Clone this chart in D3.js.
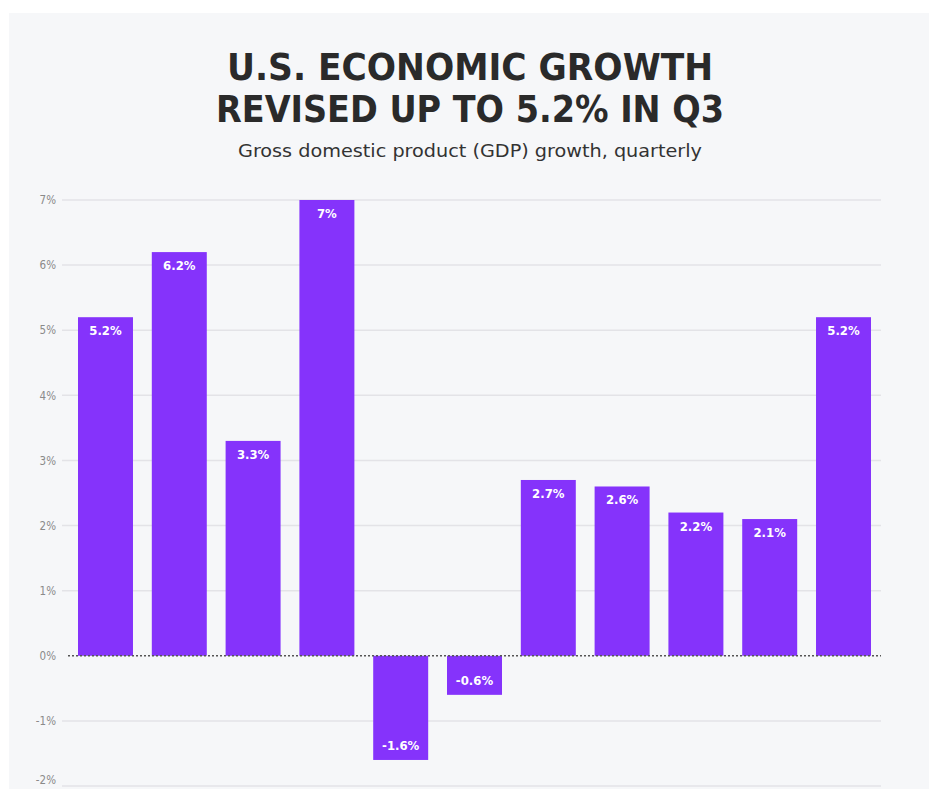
<!DOCTYPE html>
<html><head><meta charset="utf-8">
<script src="https://cdn.jsdelivr.net/npm/d3@7"></script>
<style>
html,body{margin:0;padding:0;background:#fff;}
svg{display:block;}
</style></head>
<body>
<svg id="chart" width="934" height="789"></svg>
<script>
const categories = ["Q3 2021","Q4 2021","Q1 2022","Q2 2022","Q3 2022","Q4 2022","Q1 2023","Q2 2023","Q3 2023","Q4 2023","Q3 2024"];
const values = [5.2, 6.2, 3.3, 7.0, -1.6, -0.6, 2.7, 2.6, 2.2, 2.1, 5.2];
const valueLabels = ["5.2%","6.2%","3.3%","7%","-1.6%","-0.6%","2.7%","2.6%","2.2%","2.1%","5.2%"];
const yTicks = [-2,-1,0,1,2,3,4,5,6,7];
const titleLines = ["U.S. ECONOMIC GROWTH","REVISED UP TO 5.2% IN Q3"];
const subtitle = "Gross domestic product (GDP) growth, quarterly";

const svg = d3.select("#chart");
const narrow = "'DejaVu Sans Condensed','Liberation Sans Narrow',sans-serif";

svg.append("rect").attr("x",9).attr("y",13).attr("width",920).attr("height",790).attr("fill","#f6f7f9");

const tw = [486, 508];
titleLines.forEach((t,i)=>{
  svg.append("text").attr("x",470).attr("y",80+i*42)
    .attr("text-anchor","middle").attr("font-family",narrow).attr("font-weight","bold")
    .attr("font-size",37).attr("fill","#2a2a2a")
    .attr("textLength",tw[i]).attr("lengthAdjust","spacingAndGlyphs").text(t);
});
svg.append("text").attr("x",470).attr("y",157).attr("text-anchor","middle")
  .attr("font-family",narrow).attr("font-size",18).attr("fill","#333")
  .attr("textLength",464).attr("lengthAdjust","spacingAndGlyphs").text(subtitle);

const y = d3.scaleLinear().domain([-2,7]).range([786,200]);
const x = d3.scaleBand().domain(categories).range([78,871]).paddingInner(0.255).paddingOuter(0);

const yAxis = d3.axisLeft(y).tickValues(yTicks).tickFormat(d=>d+"%").tickSize(0).tickPadding(0);
const gAxis = svg.append("g").attr("transform","translate(56,0)").call(yAxis);
gAxis.select(".domain").remove();
gAxis.selectAll("text").attr("font-family",narrow).attr("font-size",11.5).attr("fill","#8a8a8a")
  .attr("dy",d=> d===-2 ? "-0.2em" : "0.32em");

svg.append("g").selectAll("line").data(yTicks.filter(d=>d!==0)).join("line")
  .attr("x1",62).attr("x2",881).attr("y1",d=>y(d)).attr("y2",d=>y(d))
  .attr("stroke","#e3e3e7").attr("stroke-width",1.5);

svg.append("g").selectAll("rect").data(values).join("rect")
  .attr("x",(d,i)=>x(categories[i]))
  .attr("width",x.bandwidth())
  .attr("y",d=>y(Math.max(0,d)))
  .attr("height",d=>Math.abs(y(d)-y(0)))
  .attr("fill","#8533fb");

svg.append("line").attr("x1",68).attr("x2",881).attr("y1",y(0)).attr("y2",y(0))
  .attr("stroke","#555").attr("stroke-width",1.5).attr("stroke-dasharray","2,2");

svg.append("g").selectAll("text").data(values).join("text")
  .attr("x",(d,i)=>x(categories[i])+x.bandwidth()/2)
  .attr("y",d=> d>=0 ? y(d)+18 : y(d)-10)
  .attr("text-anchor","middle").attr("font-family",narrow).attr("font-weight","bold")
  .attr("font-size",13).attr("fill","#fff")
  .text((d,i)=>valueLabels[i]);
</script>
</body></html>
